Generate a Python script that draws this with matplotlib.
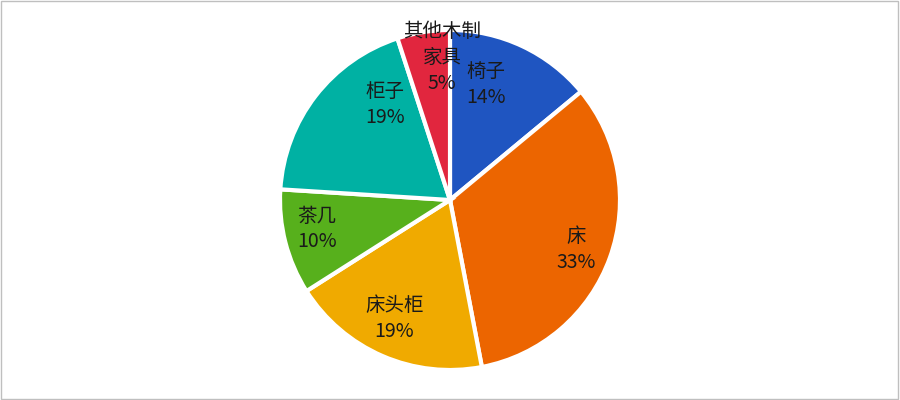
import numpy as np
import matplotlib.pyplot as plt
from matplotlib.patches import Rectangle

plt.rcParams['font.family'] = ['Noto Sans CJK SC', 'DejaVu Sans']

# 家具类别和占比
labels = ['椅子', '床', '床头柜', '茶几', '柜子', '其他木制\n家具']
shares = [14, 33, 19, 10, 19, 5]
colors = ['#1f55c1', '#ec6500', '#f0aa00', '#57b01c', '#00b1a3', '#e1263e']
# 标签离圆心的距离（半径的比例）和角度微调，大致照着原图
label_r = [0.71, 0.80, 0.77, 0.80, 0.68, 0.84]
label_shift = [8, -1.7, -1.8, -2.1, -18, -5.8]

fig = plt.figure(figsize=(9, 4), dpi=100)
ax = fig.add_axes([280 / 900, 30 / 400, 340 / 900, 340 / 400])

wedges, _ = ax.pie(shares, colors=colors, startangle=90, counterclock=False,
                   radius=1.0, wedgeprops=dict(edgecolor='white', linewidth=3))

line_h = 18.5  # 行距，单位 pt
for w, lab, s, r, d in zip(wedges, labels, shares, label_r, label_shift):
    ang = np.deg2rad((w.theta1 + w.theta2) / 2 + d)
    x, y = r * np.cos(ang), r * np.sin(ang)
    lines = lab.split('\n') + [f'{s}%']
    n = len(lines)
    # 每行单独画，居中排在 (x, y) 附近
    for i, t in enumerate(lines):
        off = ((n - 1) / 2 - i) * line_h
        ax.annotate(t, (x, y), xytext=(0, off), textcoords='offset points',
                    ha='center', va='center', fontsize=14, color='#1a1a1a')

ax.set_xlim(-1, 1)
ax.set_ylim(-1, 1)
ax.set_aspect('equal')
ax.axis('off')

fig.patches.append(Rectangle((0.001, 0.002), 0.997, 0.995, transform=fig.transFigure,
                             fill=False, edgecolor='#bfbfbf', linewidth=1))

fig.savefig('out.png', dpi=100)
